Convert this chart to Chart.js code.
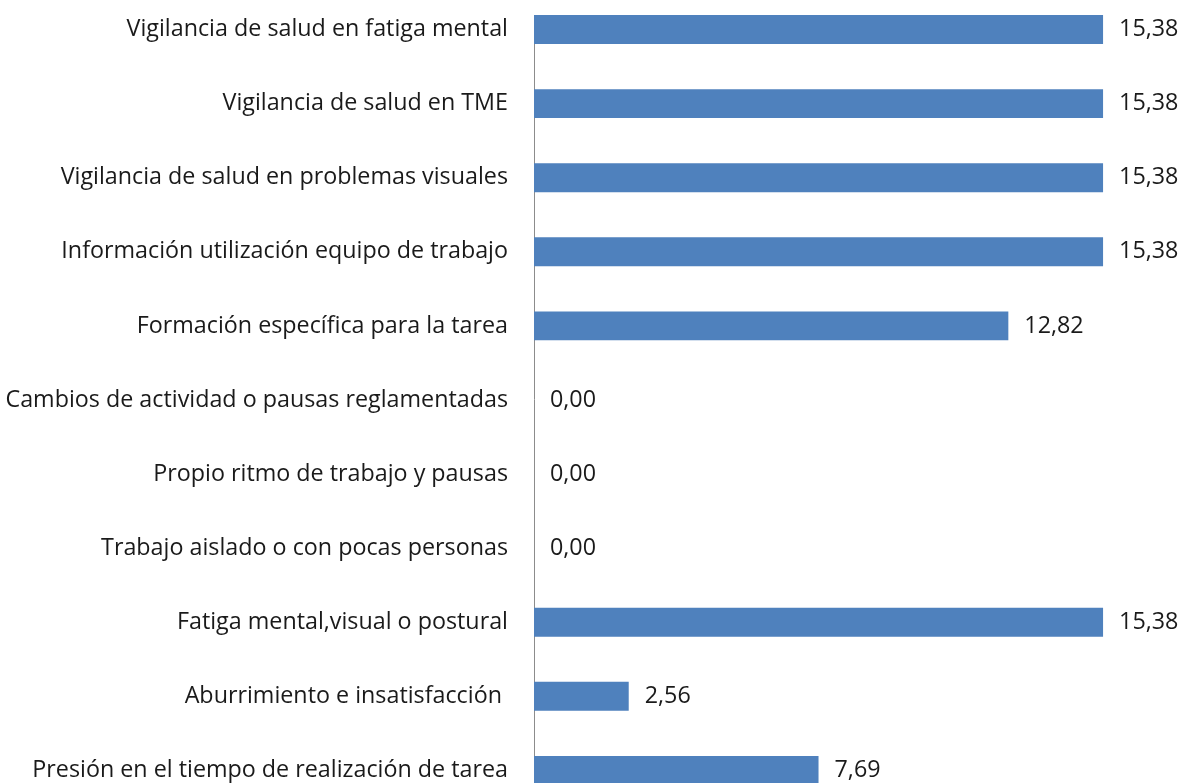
<!DOCTYPE html>
<html>
<head>
<meta charset="utf-8">
<script src="https://cdn.jsdelivr.net/npm/chart.js@4.4.1/dist/chart.umd.min.js"></script>
<style>
  html, body { margin: 0; padding: 0; background: #ffffff; overflow: hidden; }
  #wrap { position: relative; width: 1184px; height: 783px; overflow: hidden; }
  canvas { display: block; }
</style>
</head>
<body>
<div id="wrap"><canvas id="c" width="1184" height="797"></canvas></div>
<script>
const categories = [
  "Vigilancia de salud en fatiga mental",
  "Vigilancia de salud en TME",
  "Vigilancia de salud en problemas visuales",
  "Información utilización equipo de trabajo",
  "Formación específica para la tarea",
  "Cambios de actividad o pausas reglamentadas",
  "Propio ritmo de trabajo y pausas",
  "Trabajo aislado o con pocas personas",
  "Fatiga mental,visual o postural",
  "Aburrimiento e insatisfacción ",
  "Presión en el tiempo de realización de tarea"
];
const values = [15.38, 15.38, 15.38, 15.38, 12.82, 0.00, 0.00, 0.00, 15.38, 2.56, 7.69];

const FONT = "'Open Sans', Lato, sans-serif";
const FONT_SIZE = 23.3;
const fmt = v => v.toFixed(2).replace('.', ',');

const valueLabels = {
  id: 'valueLabels',
  afterDatasetsDraw(chart) {
    const ctx = chart.ctx;
    const meta = chart.getDatasetMeta(0);
    ctx.save();
    ctx.font = FONT_SIZE + "px " + FONT;
    ctx.fillStyle = '#1a1a1a';
    ctx.textAlign = 'left';
    ctx.textBaseline = 'middle';
    meta.data.forEach((bar, i) => {
      ctx.fillText(fmt(values[i]), bar.x + 16, bar.y);
    });
    ctx.restore();
  }
};

new Chart(document.getElementById('c'), {
  type: 'bar',
  data: {
    datasets: [{
      data: values.map((v, i) => ({ x: v, y: i })),
      backgroundColor: '#4F81BD',
      borderWidth: 0,
      barPercentage: 0.39,
      categoryPercentage: 1.0
    }]
  },
  options: {
    indexAxis: 'y',
    responsive: false,
    animation: false,
    devicePixelRatio: 1,
    layout: { padding: { left: 0, right: 21, top: 15, bottom: 14 } },
    plugins: { legend: { display: false }, tooltip: { enabled: false } },
    scales: {
      x: {
        type: 'linear',
        display: false,
        offset: false,
        min: 0,
        max: 17
      },
      y: {
        type: 'linear',
        reverse: true,
        offset: false,
        min: -0.196,
        max: 10.17,
        grid: {
          display: true,
          drawOnChartArea: false,
          drawTicks: true,
          tickLength: 26,
          color: 'rgba(0,0,0,0)',
          tickColor: 'rgba(0,0,0,0)',
          offset: false
        },
        border: { display: true, color: '#8c8c8c', width: 1 },
        afterBuildTicks: (scale) => { scale.ticks = categories.map((c, i) => ({ value: i })); },
        afterFit: (scale) => { scale.width = 534; },
        ticks: {
          autoSkip: false,
          padding: 0,
          color: '#1a1a1a',
          font: { family: FONT, size: FONT_SIZE },
          callback: (v) => categories[v]
        }
      }
    }
  },
  plugins: [valueLabels]
});
</script>
</body>
</html>
